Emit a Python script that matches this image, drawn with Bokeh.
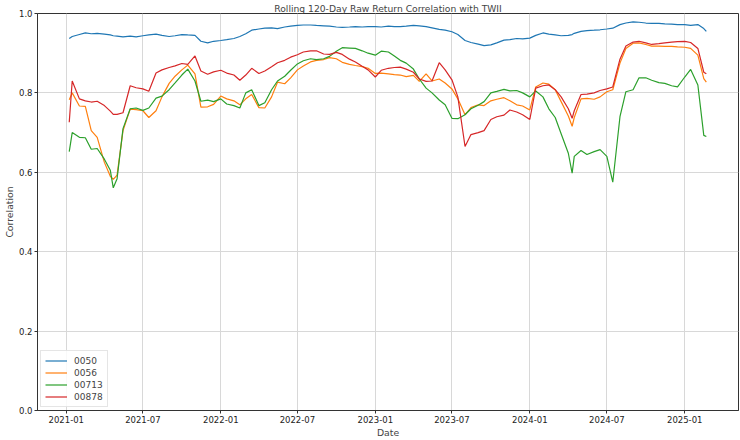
import pandas as pd
from bokeh.plotting import figure
from bokeh.models import (Range1d, MonthsTicker, DatetimeTickFormatter, FixedTicker,
                          PrintfTickFormatter, Legend, LegendItem)
from bokeh.embed import file_html
from bokeh.resources import INLINE

dates = [
    "2021-01-08", "2021-01-15", "2021-02-01", "2021-02-15", "2021-03-01", "2021-03-15",
    "2021-04-01", "2021-04-15", "2021-04-22", "2021-05-01", "2021-05-15", "2021-06-01",
    "2021-06-15", "2021-07-01", "2021-07-15", "2021-08-01", "2021-08-15", "2021-09-01",
    "2021-09-15", "2021-10-01", "2021-10-15", "2021-11-01", "2021-11-15", "2021-12-01",
    "2021-12-15",
    "2022-01-01", "2022-01-15", "2022-02-01", "2022-02-15", "2022-03-01", "2022-03-15",
    "2022-04-01", "2022-04-15", "2022-05-01", "2022-05-15", "2022-06-01", "2022-06-15",
    "2022-07-01", "2022-07-15", "2022-08-01", "2022-08-15", "2022-09-01", "2022-09-15",
    "2022-10-01", "2022-10-15", "2022-11-01", "2022-11-15", "2022-12-01", "2022-12-15",
    "2023-01-01", "2023-01-15", "2023-02-01", "2023-02-15", "2023-03-01", "2023-03-15",
    "2023-04-01", "2023-04-15", "2023-05-01", "2023-05-15", "2023-06-01", "2023-06-15",
    "2023-07-01", "2023-07-15", "2023-08-01", "2023-08-15", "2023-09-01", "2023-09-15",
    "2023-10-01", "2023-10-15", "2023-11-01", "2023-11-15", "2023-12-01", "2023-12-15",
    "2024-01-01", "2024-01-15", "2024-02-01", "2024-02-15", "2024-03-01", "2024-03-15",
    "2024-04-01", "2024-04-10", "2024-04-15", "2024-05-01", "2024-05-15", "2024-06-01",
    "2024-06-15", "2024-07-01", "2024-07-15", "2024-08-01", "2024-08-15", "2024-09-01",
    "2024-09-15", "2024-10-01", "2024-10-15", "2024-11-01", "2024-11-15", "2024-12-01",
    "2024-12-15",
    "2025-01-01", "2025-01-15", "2025-02-01", "2025-02-15", "2025-02-21",
]

corr_0050 = [
    0.937, 0.942, 0.947, 0.951, 0.949, 0.950, 0.948, 0.946, 0.944, 0.943, 0.941, 0.943,
    0.941, 0.944, 0.946, 0.948, 0.945, 0.942, 0.944, 0.947, 0.946, 0.945, 0.930, 0.926, 0.930,
    0.932, 0.934, 0.937, 0.942, 0.949, 0.958, 0.961, 0.963, 0.964, 0.962, 0.966, 0.968,
    0.970, 0.971, 0.971, 0.970, 0.969, 0.968, 0.966, 0.965, 0.966, 0.967, 0.966, 0.967,
    0.967, 0.966, 0.968, 0.967, 0.967, 0.968, 0.970, 0.969, 0.967, 0.964, 0.960, 0.958,
    0.954, 0.947, 0.932, 0.927, 0.923, 0.919, 0.921, 0.926, 0.933, 0.934, 0.937, 0.936,
    0.938, 0.945, 0.951, 0.948, 0.946, 0.944, 0.945, 0.947, 0.950, 0.955, 0.957, 0.958,
    0.959, 0.961, 0.963, 0.972, 0.976, 0.979, 0.978, 0.976, 0.975, 0.975, 0.974, 0.973, 0.972,
    0.972, 0.970, 0.972, 0.962, 0.955,
]

corr_0056 = [
    0.783, 0.800, 0.767, 0.766, 0.705, 0.688, 0.625, 0.590, 0.582, 0.593, 0.705, 0.759,
    0.758, 0.755, 0.738, 0.755, 0.790, 0.824, 0.842, 0.858, 0.870, 0.848, 0.764, 0.765, 0.771,
    0.792, 0.785, 0.780, 0.770, 0.785, 0.796, 0.763, 0.762, 0.790, 0.827, 0.823, 0.838,
    0.858, 0.868, 0.878, 0.882, 0.884, 0.889, 0.886, 0.877, 0.872, 0.869, 0.866, 0.862,
    0.849, 0.850, 0.848, 0.846, 0.845, 0.841, 0.844, 0.829, 0.848, 0.830, 0.835, 0.825,
    0.810, 0.785, 0.745, 0.763, 0.770, 0.768, 0.780, 0.784, 0.788, 0.780, 0.770, 0.767,
    0.757, 0.815, 0.825, 0.822, 0.808, 0.778, 0.742, 0.716, 0.738, 0.785, 0.786, 0.784,
    0.790, 0.803, 0.808, 0.875, 0.912, 0.925, 0.926, 0.922, 0.918, 0.918, 0.917, 0.917, 0.916,
    0.915, 0.912, 0.895, 0.836, 0.827,
]

corr_00713 = [
    0.652, 0.700, 0.688, 0.687, 0.658, 0.660, 0.633, 0.605, 0.561, 0.584, 0.710, 0.760,
    0.762, 0.756, 0.762, 0.787, 0.792, 0.808, 0.825, 0.845, 0.860, 0.830, 0.779, 0.782, 0.778,
    0.785, 0.772, 0.768, 0.762, 0.800, 0.808, 0.768, 0.775, 0.808, 0.830, 0.842, 0.857,
    0.873, 0.881, 0.886, 0.884, 0.886, 0.892, 0.905, 0.914, 0.913, 0.912, 0.906, 0.900,
    0.895, 0.905, 0.903, 0.893, 0.882, 0.875, 0.860, 0.835, 0.812, 0.800, 0.782, 0.770,
    0.736, 0.735, 0.745, 0.760, 0.769, 0.778, 0.800, 0.804, 0.809, 0.805, 0.806, 0.800,
    0.790, 0.805, 0.790, 0.760, 0.738, 0.697, 0.648, 0.598, 0.640, 0.655, 0.645, 0.652,
    0.657, 0.640, 0.575, 0.740, 0.803, 0.808, 0.838, 0.838, 0.832, 0.826, 0.824, 0.818, 0.815,
    0.840, 0.859, 0.820, 0.693, 0.690,
]

corr_00878 = [
    0.726, 0.830, 0.785, 0.780, 0.777, 0.779, 0.768, 0.754, 0.746, 0.746, 0.750, 0.818,
    0.813, 0.810, 0.804, 0.850, 0.858, 0.864, 0.868, 0.874, 0.872, 0.893, 0.855, 0.847, 0.853,
    0.857, 0.850, 0.845, 0.832, 0.845, 0.862, 0.849, 0.855, 0.866, 0.876, 0.882, 0.890,
    0.896, 0.903, 0.906, 0.906, 0.898, 0.897, 0.902, 0.897, 0.885, 0.878, 0.867, 0.858,
    0.840, 0.857, 0.862, 0.864, 0.865, 0.860, 0.852, 0.835, 0.829, 0.830, 0.876, 0.858,
    0.833, 0.790, 0.665, 0.695, 0.700, 0.705, 0.733, 0.740, 0.744, 0.757, 0.752, 0.745,
    0.733, 0.812, 0.818, 0.820, 0.808, 0.790, 0.760, 0.736, 0.755, 0.796, 0.797, 0.800,
    0.806, 0.810, 0.815, 0.885, 0.918, 0.928, 0.930, 0.926, 0.922, 0.924, 0.926, 0.928, 0.929,
    0.930, 0.927, 0.912, 0.852, 0.848,
]

series_names = ["0050", "0056", "00713", "00878"]
series_values = [corr_0050, corr_0056, corr_00713, corr_00878]
series_colors = ["#1f77b4", "#ff7f0e", "#2ca02c", "#d62728"]
y_ticks = [0.0, 0.2, 0.4, 0.6, 0.8, 1.0]

x = pd.to_datetime(dates)

FONT = "DejaVu Sans"

p = figure(width=740, height=440, x_axis_type="datetime",
           output_backend="svg", toolbar_location=None,
           x_range=Range1d(pd.Timestamp("2020-10-25"), pd.Timestamp("2025-05-08")),
           y_range=Range1d(0.0, 1.0),
           min_border_left=1, min_border_right=2, min_border_top=0, min_border_bottom=0)

p.title.text = "Rolling 120-Day Raw Return Correlation with TWII"
p.title.align = "center"
p.title.text_font = FONT
p.title.text_font_size = "9.2px"
p.title.text_font_style = "normal"
p.title.standoff = 0
p.title.offset = 0

renderers = []
for name, vals, col in zip(series_names, series_values, series_colors):
    r = p.line(x, vals, line_color=col, line_width=1.2)
    renderers.append((name, r))

legend = Legend(items=[LegendItem(label=n, renderers=[r]) for n, r in renderers],
                location="bottom_left")
legend.label_text_font = FONT
legend.label_text_font_size = "9px"
legend.border_line_color = "#cccccc"
legend.background_fill_alpha = 0.85
legend.margin = 3
legend.padding = 4
legend.spacing = 1
legend.glyph_width = 22
legend.glyph_height = 11
legend.label_height = 11
legend.label_standoff = 7
p.add_layout(legend)

p.xaxis.ticker = MonthsTicker(months=[0, 6])
p.xaxis.formatter = DatetimeTickFormatter(months="%Y-%m", years="%Y-%m", days="%Y-%m")
p.yaxis.ticker = FixedTicker(ticks=y_ticks)
p.yaxis.formatter = PrintfTickFormatter(format="%.1f")
p.xaxis.axis_label = "Date"
p.yaxis.axis_label = "Correlation"

for ax in (p.xaxis, p.yaxis):
    ax.axis_label_text_font = FONT
    ax.axis_label_text_font_size = "9.3px"
    ax.axis_label_text_font_style = "normal"
    ax.major_label_text_font = FONT
    ax.major_label_text_font_size = "8.5px"
    ax.major_label_text_color = "#222222"
    ax.minor_tick_line_color = None
    ax.major_tick_out = 3
    ax.major_tick_in = 0
    ax.axis_line_color = "#333333"
    ax.major_tick_line_color = "#333333"
    ax.major_label_standoff = 2
    ax.axis_label_standoff = 1

p.xgrid.ticker = p.xaxis.ticker
p.xgrid.grid_line_color = "#d8d8d8"
p.ygrid.grid_line_color = "#d8d8d8"
p.outline_line_color = "#333333"
p.outline_line_width = 1

open("out.html", "w").write(file_html(p, INLINE))
